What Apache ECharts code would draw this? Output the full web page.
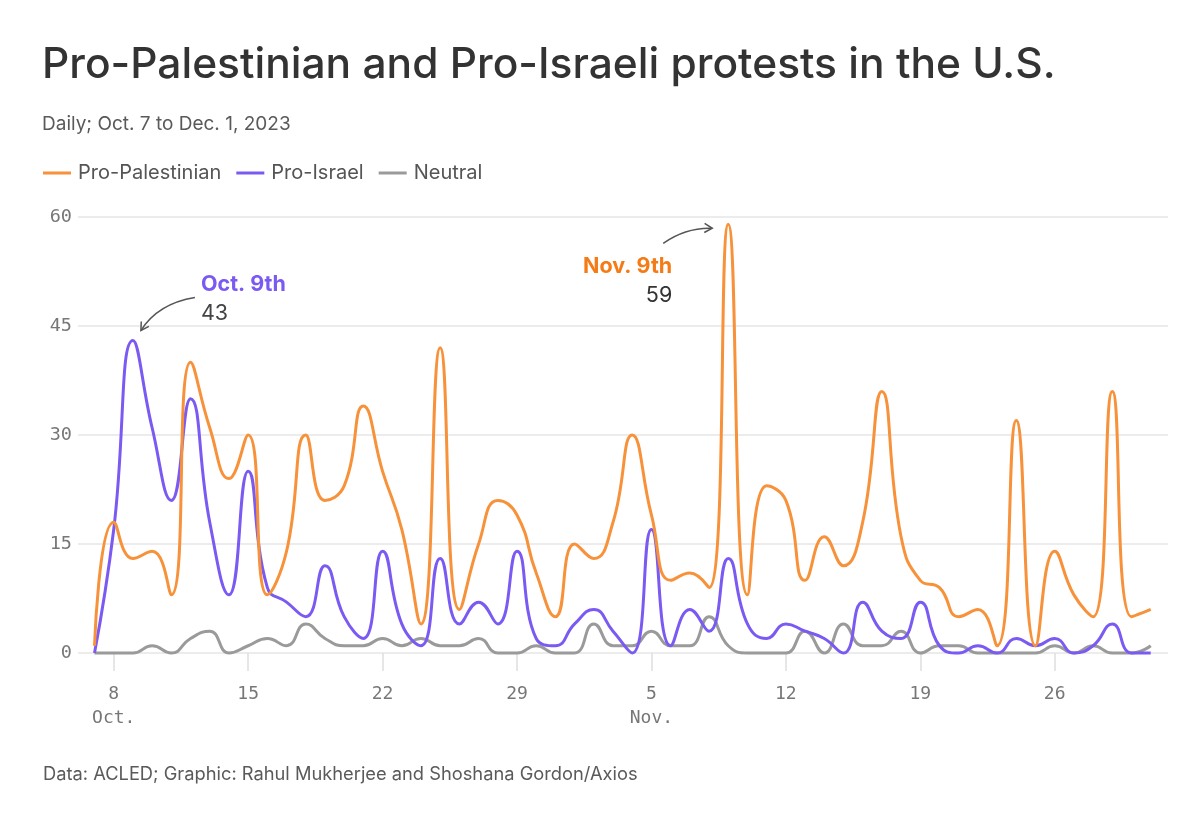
<!DOCTYPE html>
<html>
<head>
<meta charset="utf-8">
<script src="https://cdn.jsdelivr.net/npm/echarts@6/dist/echarts.min.js"></script>
<style>
  html, body { margin: 0; padding: 0; background: #fff; }
  #chart { width: 1200px; height: 819px; }
</style>
</head>
<body>
<div id="chart"></div>
<script>
// daily counts, Oct. 7 (index 0) to Dec. 1, 2023 (index 55)
const proPalestinian = [1, 18, 13, 14, 8, 40, 31, 24, 30, 8, 14, 30, 21, 23, 34, 25, 17, 4, 42, 6,
  15, 21, 19, 11, 5, 15, 13, 18, 30, 19, 10, 11, 9, 59, 8, 23, 21, 10, 16, 12,
  18, 36, 16, 10, 9, 5, 6, 1, 32, 1, 14, 8, 5, 36, 5, 6];
const proIsrael = [0, 17, 43, 31, 21, 35, 18, 8, 25, 9, 7, 5, 12, 5, 2, 14, 4, 1, 13, 4,
  7, 4, 14, 2, 1, 4, 6, 3, 0, 17, 1, 6, 3, 13, 4, 2, 4, 3, 2, 0,
  7, 3, 2, 7, 1, 0, 1, 0, 2, 1, 2, 0, 1, 4, 0, 0];
const neutral = [0, 0, 0, 1, 0, 2, 3, 0, 1, 2, 1, 4, 2, 1, 1, 2, 1, 2, 1, 1,
  2, 0, 0, 1, 0, 0, 4, 1, 1, 3, 1, 1, 5, 1, 0, 0, 0, 3, 0, 4,
  1, 1, 3, 0, 1, 1, 0, 0, 0, 0, 1, 0, 1, 0, 0, 1];

const seriesNames = ['Pro-Palestinian', 'Pro-Israel', 'Neutral'];
const tickDays = [1, 8, 15, 22, 29, 36, 43, 50];
const tickLabels = ['8\nOct.', '15', '22', '29', '5\nNov.', '12', '19', '26'];
const yTicks = [0, 15, 30, 45, 60];

const colors = ['#f7913a', '#7a5af2', '#9a9a9a'];
const mono = '"DejaVu Sans Mono", "Liberation Mono", monospace';
const sans = 'Inter, "Noto Sans", sans-serif';

const toPairs = (arr) => arr.map((v, i) => [i, v]);

const chart = echarts.init(document.getElementById('chart'));

const option = {
  animation: false,
  backgroundColor: '#fff',
  color: colors,
  title: [
    {
      text: 'Pro-Palestinian and Pro-Israeli protests in the U.S.',
      left: 37, top: 34,
      textStyle: { fontFamily: sans, fontSize: 42.5, fontWeight: 500, color: '#333', lineHeight: 52 }
    },
    {
      text: 'Daily; Oct. 7 to Dec. 1, 2023',
      left: 37, top: 107,
      textStyle: { fontFamily: sans, fontSize: 19, fontWeight: 400, color: '#5a5a5a', lineHeight: 24 }
    },
    {
      text: 'Data: ACLED; Graphic: Rahul Mukherjee and Shoshana Gordon/Axios',
      left: 38, top: 758,
      textStyle: { fontFamily: sans, fontSize: 18.3, fontWeight: 400, color: '#5a5a5a', lineHeight: 24 }
    }
  ],
  legend: {
    left: 38, top: 158,
    icon: 'rect',
    itemWidth: 28, itemHeight: 3,
    itemGap: 15,
    textStyle: { fontFamily: sans, fontSize: 20, color: '#555', padding: [0, 0, 0, 2] },
    data: seriesNames
  },
  grid: { left: 78, right: 32, top: 217, bottom: 166, containLabel: false },
  xAxis: {
    type: 'value',
    min: -0.86,
    max: 55.9,
    axisLine: { show: false },
    splitLine: { show: false },
    axisTick: {
      show: true, length: 18, customValues: tickDays,
      lineStyle: { color: '#dedede', width: 1.5 }
    },
    axisLabel: {
      customValues: tickDays,
      margin: 29,
      fontFamily: mono, fontSize: 18, color: '#777', lineHeight: 24,
      formatter: (v) => tickLabels[tickDays.indexOf(Math.round(v))] || ''
    }
  },
  yAxis: {
    type: 'value',
    min: 0, max: 60, interval: 15,
    axisLine: { show: false },
    axisTick: { show: false },
    splitLine: { lineStyle: { color: '#e6e6e6', width: 1.5 } },
    axisLabel: {
      margin: 6, fontFamily: mono, fontSize: 18.5, color: '#777',
      formatter: (v) => yTicks.indexOf(v) >= 0 ? String(v) : ''
    }
  },
  series: [
    { name: seriesNames[0], data: toPairs(proPalestinian) },
    { name: seriesNames[1], data: toPairs(proIsrael) },
    { name: seriesNames[2], data: toPairs(neutral) }
  ].map((s, i) => ({
    ...s,
    type: 'line',
    smooth: 0.5,
    clip: false,
    showSymbol: false,
    symbol: 'none',
    z: 10 - i,
    lineStyle: { width: 3, color: colors[i] }
  }))
};

chart.setOption(option);

// annotation arrows, placed from the annotated data points
function arrow(from, ctrl, to) {
  const dx = to[0] - ctrl[0], dy = to[1] - ctrl[1];
  const len = Math.sqrt(dx * dx + dy * dy);
  const ux = dx / len, uy = dy / len;
  const head = 9, a = Math.PI / 6;
  const rot = (x, y, t) => [x * Math.cos(t) - y * Math.sin(t), x * Math.sin(t) + y * Math.cos(t)];
  const l = rot(-ux, -uy, a), r = rot(-ux, -uy, -a);
  return [
    {
      type: 'bezierCurve', silent: true,
      shape: { x1: from[0], y1: from[1], cpx1: ctrl[0], cpy1: ctrl[1], x2: to[0], y2: to[1] },
      style: { stroke: '#555', lineWidth: 1.5, fill: null }
    },
    {
      type: 'polyline', silent: true,
      shape: { points: [[to[0] + l[0] * head, to[1] + l[1] * head], to, [to[0] + r[0] * head, to[1] + r[1] * head]] },
      style: { stroke: '#555', lineWidth: 1.5, fill: null }
    }
  ];
}

const pIsr = chart.convertToPixel({ seriesIndex: 1 }, [2, proIsrael[2]]);
const pPal = chart.convertToPixel({ seriesIndex: 0 }, [33, proPalestinian[33]]);

const textEl = (x, y, text, fill, weight, align) => ({
  type: 'text', silent: true, z: 100,
  style: {
    x, y, text, fill,
    fontFamily: sans, fontSize: 21.5, fontWeight: weight,
    align, verticalAlign: 'middle'
  }
});

chart.setOption({
  graphic: [
    ...arrow([pIsr[0] + 62, pIsr[1] - 43], [pIsr[0] + 25, pIsr[1] - 37], [pIsr[0] + 8, pIsr[1] - 10]),
    textEl(pIsr[0] + 68, pIsr[1] - 56, 'Oct. 9th', '#7a5af2', 700, 'left'),
    textEl(pIsr[0] + 68, pIsr[1] - 27, String(proIsrael[2]), '#444', 400, 'left'),
    ...arrow([pPal[0] - 65, pPal[1] + 19], [pPal[0] - 42, pPal[1] + 3], [pPal[0] - 16, pPal[1] + 4]),
    textEl(pPal[0] - 56, pPal[1] + 42, 'Nov. 9th', '#f47b16', 700, 'right'),
    textEl(pPal[0] - 56, pPal[1] + 71, String(proPalestinian[33]), '#333', 400, 'right')
  ]
});

window.addEventListener('resize', () => chart.resize());
</script>
</body>
</html>
